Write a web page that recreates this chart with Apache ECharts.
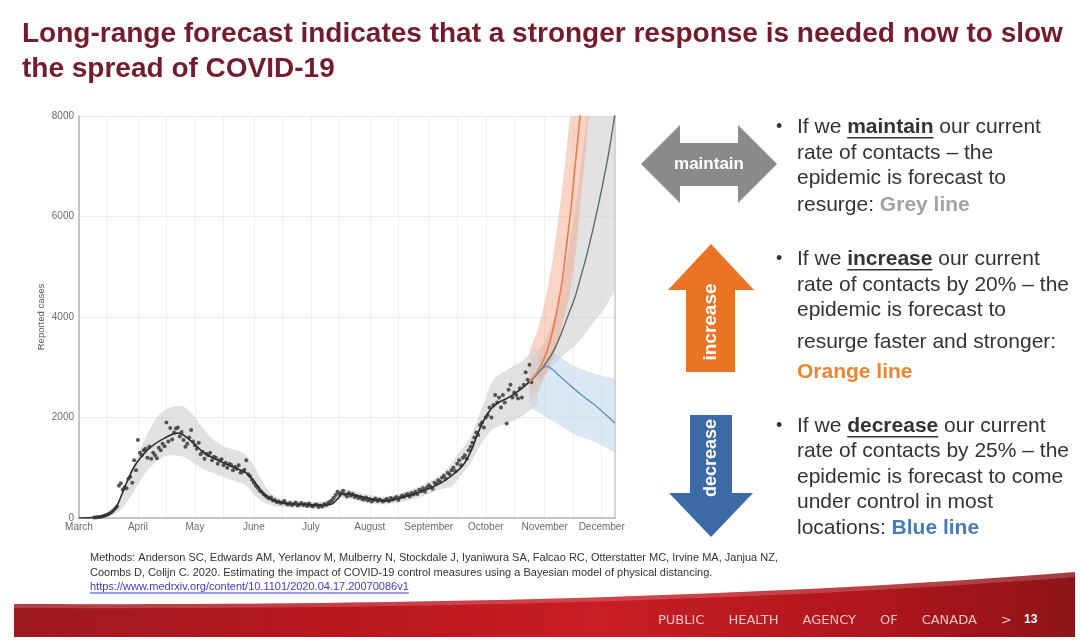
<!DOCTYPE html>
<html><head><meta charset="utf-8">
<script src="https://cdn.jsdelivr.net/npm/echarts@6/dist/echarts.min.js"></script>
<style>html,body{margin:0;padding:0;background:#fff}#c{width:1080px;height:642px}</style>
</head><body><div id="c"></div>
<script>
// ---- axis / tick data (x = days since March 1) ----
const monthLabels = ['March','April','May','June','July','August','September','October','November','December'];
const monthStartDays = [0,31,61,92,122,153,184,214,245,275];
const halfMonthDays = [0,15,31,46,61,76,92,107,122,137,153,168,184,199,214,229,245,260,275];

// ---- reported daily cases (points), first point on day 8 ----
const firstCaseDay = 8;
const dailyCases = [
 10,12,18,22,30,40,55,70,90,115,150,190,230,
 640,690,560,610,590,780,820,700,1150,950,
 1550,1300,1250,1350,1380,1200,1420,1180,1300,1250,
 1190,1400,1350,1480,1430,1900,1520,1790,1560,1700,
 1780,1800,1620,1710,1550,1420,1480,1600,1750,1520,
 1450,1380,1500,1270,1320,1180,1280,1250,1300,1150,
 1220,1200,1080,1150,1170,1050,1100,1000,1080,1060,
 950,1020,980,1050,900,920,960,1150,870,830,
 760,700,640,600,540,520,480,450,420,390,
 410,350,360,320,330,300,310,340,290,270,
 300,260,280,310,250,270,300,260,280,240,
 290,250,230,260,270,220,250,230,280,260,
 300,320,350,400,460,520,480,500,540,470,
 430,500,450,480,420,440,400,420,380,370,
 410,350,380,330,360,390,340,370,350,330,
 360,380,340,400,370,390,420,360,410,450,
 420,460,480,430,500,470,520,480,560,530,
 590,520,600,650,620,580,700,680,750,720,
 800,840,780,900,870,950,1000,930,1080,1150,
 1050,1200,1250,1180,1350,1420,1500,1600,1700,1650,
 1850,1900,1800,2000,2050,2200,2000,2250,2450,2300,
 2400,2200,2450,2300,1880,2550,2650,2400,2500,2450,
 2380,2580,2400,2650,2900,2750,3050,2700
];

// ---- model fit (black line) ----
const fitDays  = [0,5,10,15,19,22,25,29,33,38,45,52,59,66,73,80,87,90,94,97,100,104,110,116,122,128,133,136,139,143,148,153,158,163,168,173,178,183,188,193,198,203,207,210,215,220,227,233,238,242];
const fitCases = [0,3,20,60,180,420,700,1020,1230,1420,1590,1690,1530,1290,1150,1030,920,830,640,490,400,330,285,275,265,255,280,380,480,470,430,380,350,340,390,440,500,570,650,760,900,1100,1400,1700,2080,2280,2420,2580,2750,2900];

// ---- model fit uncertainty band ----
const bandDays  = [0,10,15,20,25,30,35,40,45,50,55,60,65,70,75,80,85,88,92,96,100,105,110,120,130,137,140,150,160,170,180,190,196,200,206,210,213,218,225,234,241];
const bandUpper = [0,40,100,280,650,1150,1600,1950,2150,2220,2220,2050,1800,1580,1450,1380,1320,1250,1050,760,520,400,360,330,340,560,580,480,430,500,650,850,1094,1300,1618,2000,2282,2746,2945,3144,3409];
const bandLower = [0,5,30,100,300,600,900,1100,1230,1250,1220,1100,980,900,830,760,700,640,470,340,270,230,210,200,190,380,400,310,270,320,420,570,623,800,1094,1380,1552,1780,1880,2050,2300];

// ---- forecast: maintain (grey) ----
const greyDays  = [237,242,246,250,254,258,261,264,267.4,272.7,278,282];
const greyCases = [2700,2900,3100,3350,3700,4100,4400,4800,5270,6130,7120,8050];
const greyBandDays  = [238,245,250,255,260,264,268,272,277,282];
const greyBandUpper = [3150,3500,4000,4800,5900,7000,8200,9500,11000,13000];
const greyBandLower = [2600,2850,3050,3250,3400,3550,3750,3950,4200,4600];

// ---- forecast: increase (orange) ----
const orangeDays  = [237,241,245,248,250.5,252.5,254.5,256,258.7,261.3,263.6,266];
const orangeCases = [2700,2900,3200,3550,3950,4340,4800,5270,6130,7120,8000,9000];
const orangeBandDays  = [237,241,245,249,252,255,258,261,264,267,270];
const orangeBandUpper = [3300,3700,4300,5100,5900,6800,7900,9000,10500,12000,13500];
const orangeBandLower = [2300,2500,2800,3150,3500,3950,4400,5200,6300,7500,9000];

// ---- forecast: decrease (blue) ----
const blueDays  = [237,242,246,249,253,259,265.6,270,274.4,282];
const blueCases = [2700,2900,3020,2960,2820,2620,2414,2290,2150,1890];
const blueBandDays  = [238,243,247,255,262,269,276,282];
const blueBandUpper = [3000,3250,3350,3150,3000,2900,2820,2750];
const blueBandLower = [2200,2080,1980,1800,1640,1550,1430,1330];

// ---------------------------------------------------------------
const FF = '"Liberation Sans", Arial, sans-serif';
const mctx = document.createElement('canvas').getContext('2d');
function tw(text, font){ mctx.font = font; return mctx.measureText(text).width; }

function pairs(xs, ys){ return xs.map((x,i)=>[x, ys[i]]); }
const scatterData = dailyCases.map((v,i)=>[firstCaseDay+i, v]);

function bandSeries(xs, up, lo, color, opacity, z){
  return {
    type:'custom', z:z, silent:true, clip:true,
    data:[[xs[0], lo[0]]],
    renderItem:function(params, api){
      const pts=[];
      for(let i=0;i<xs.length;i++) pts.push(api.coord([xs[i], up[i]]));
      for(let i=xs.length-1;i>=0;i--) pts.push(api.coord([xs[i], lo[i]]));
      const cs = params.coordSys;
      return {
        type:'group',
        clipPath:{type:'rect', shape:{x:cs.x, y:cs.y, width:cs.width, height:cs.height}},
        children:[{type:'polygon', shape:{points:pts, smooth:0.25}, style:{fill:color, opacity:opacity}}]
      };
    }
  };
}
function lineSeries(xs, ys, color, width, z){
  return {type:'line', data:pairs(xs,ys), smooth:0.4, showSymbol:false, clip:true, z:z, silent:true,
    lineStyle:{color:color, width:width}};
}

// ---- slide graphics ----
const bodyFont = '21px ' + FF;
const boldFont = 'bold 21px ' + FF;
const textColor = '#333333';
const graphics = [];

// Title
['Long-range forecast indicates that a stronger response is needed now to slow','the spread of COVID-19'].forEach((t,i)=>{
  graphics.push({type:'text', x:22, y:[34,69][i], style:{text:t, font:'bold 28px '+FF, fill:'#751c2c', verticalAlign:'middle'}});
});

// Arrows
graphics.push({type:'polygon', shape:{points:[[641,164],[680,125],[680,143],[738,143],[738,125],[777,164],[738,203],[738,186],[680,186],[680,203]]}, style:{fill:'#8a8a8a'}});
graphics.push({type:'text', x:709, y:164, style:{text:'maintain', font:'bold 17px '+FF, fill:'#ffffff', align:'center', verticalAlign:'middle'}});
graphics.push({type:'polygon', shape:{points:[[711,244],[754,290],[735,290],[735,372],[686,372],[686,290],[668,290]]}, style:{fill:'#ea7424'}});
graphics.push({type:'text', x:711, y:322, rotation:Math.PI/2, style:{text:'increase', font:'bold 19px '+FF, fill:'#ffffff', align:'center', verticalAlign:'middle'}});
graphics.push({type:'polygon', shape:{points:[[690,415],[732,415],[732,493],[753,493],[711,537],[669,493],[690,493]]}, style:{fill:'#3b6aa6'}});
graphics.push({type:'text', x:711, y:458, rotation:Math.PI/2, style:{text:'decrease', font:'bold 18px '+FF, fill:'#ffffff', align:'center', verticalAlign:'middle'}});

// Bullet text blocks
const richStyles = {
  b:{font:boldFont, fill:textColor},
  g:{font:boldFont, fill:'#a3a3a3'},
  o:{font:boldFont, fill:'#ec8430'},
  bl:{font:boldFont, fill:'#4a7bb6'}
};
const blocks = [
  {ys:[127,153,178,205], lines:['If we {b|maintain} our current','rate of contacts – the','epidemic is forecast to','resurge: {g|Grey line}'], key:'maintain'},
  {ys:[259,285,310,342,372], lines:['If we {b|increase} our current','rate of contacts by 20% – the','epidemic is forecast to','resurge faster and stronger:','{o|Orange line}'], key:'increase'},
  {ys:[426,451,477,502,528], lines:['If we {b|decrease} our current','rate of contacts by 25% – the','epidemic is forecast to come','under control in most','locations: {bl|Blue line}'], key:'decrease'}
];
blocks.forEach(bk=>{
  graphics.push({type:'text', x:776, y:bk.ys[0], style:{text:'•', font:'18px '+FF, fill:textColor, verticalAlign:'middle'}});
  bk.lines.forEach((ln,i)=>{
    graphics.push({type:'text', x:797, y:bk.ys[i], style:{text:ln, font:bodyFont, fill:textColor, verticalAlign:'middle', rich:richStyles}});
  });
  const x0 = 797 + tw('If we ', bodyFont);
  const w = tw(bk.key, boldFont);
  graphics.push({type:'rect', shape:{x:x0, y:bk.ys[0]+10, width:w, height:1.6}, style:{fill:textColor}});
});

// Footer reference
const footFont = '11px ' + FF;
graphics.push({type:'text', x:90, y:558, style:{text:'Methods: Anderson SC, Edwards AM, Yerlanov M, Mulberry N, Stockdale J, Iyaniwura SA, Falcao RC, Otterstatter MC, Irvine MA, Janjua NZ,', font:footFont, fill:'#333', verticalAlign:'middle'}});
graphics.push({type:'text', x:90, y:573, style:{text:'Coombs D, Colijn C. 2020. Estimating the impact of COVID-19 control measures using a Bayesian model of physical distancing.', font:footFont, fill:'#333', verticalAlign:'middle'}});
const linkText = 'https://www.medrxiv.org/content/10.1101/2020.04.17.20070086v1';
graphics.push({type:'text', x:90, y:587, style:{text:linkText, font:footFont, fill:'#3a3ad0', verticalAlign:'middle'}});
graphics.push({type:'rect', shape:{x:90, y:592.5, width:tw(linkText, footFont), height:1}, style:{fill:'#3a3ad0'}});

// Red banner (decorative shape: curved top edge sampled from a bezier)
function bez(p0,p1,p2,p3,n){
  const out=[];
  for(let i=0;i<=n;i++){const t=i/n, u=1-t;
    out.push([u*u*u*p0[0]+3*u*u*t*p1[0]+3*u*t*t*p2[0]+t*t*t*p3[0], u*u*u*p0[1]+3*u*u*t*p1[1]+3*u*t*t*p2[1]+t*t*t*p3[1]]);}
  return out;
}
const topEdge = bez([14,604],[300,605],[700,602],[1075,572],40);
const bannerPts = topEdge.concat([[1075,637],[14,637]]);
graphics.push({type:'polygon', shape:{points:bannerPts},
  style:{fill:new echarts.graphic.LinearGradient(0,0,1,0,[
    {offset:0, color:'#9d1a20'},{offset:0.3, color:'#b8161d'},{offset:0.55, color:'#c81e25'},{offset:0.8, color:'#b0161c'},{offset:1, color:'#8e1418'}])}});
const hiEdge = bez([14,608],[300,609],[700,606],[1075,577],40).reverse();
graphics.push({type:'polygon', shape:{points:topEdge.concat(hiEdge)}, style:{fill:'rgba(255,255,255,0.18)'}});
const bannerFont = '13px "DejaVu Sans", sans-serif';
['PUBLIC','HEALTH','AGENCY','OF','CANADA'].reduce((x,word)=>{
  graphics.push({type:'text', x:x, y:621, style:{text:word, font:bannerFont, fill:'#f2c4c4', verticalAlign:'middle'}});
  return x + tw(word, bannerFont) + 24;
}, 658);
graphics.push({type:'text', x:1001, y:621, style:{text:'>', font:bannerFont, fill:'#f2c4c4', verticalAlign:'middle'}});
graphics.push({type:'text', x:1024, y:620, style:{text:'13', font:'bold 12px '+FF, fill:'#ffffff', verticalAlign:'middle'}});

// ---- chart ----
const chart = echarts.init(document.getElementById('c'), null, {renderer:'canvas'});
chart.setOption({
  animation:false,
  backgroundColor:'#ffffff',
  grid:{left:79, right:465, top:116, bottom:124},
  xAxis:{
    type:'value', min:0, max:282,
    axisLine:{show:true, lineStyle:{color:'#b5b5b5', width:1.5}},
    axisTick:{show:false, customValues:halfMonthDays},
    axisLabel:{customValues:monthStartDays, formatter:v=>monthLabels[monthStartDays.indexOf(v)], fontSize:10, color:'#6a6a6a', margin:4, fontFamily:FF},
    splitLine:{show:true, lineStyle:{color:'#efefef', width:1}}
  },
  yAxis:[{
    type:'value', min:0, max:8000, interval:2000,
    name:'Reported cases', nameLocation:'middle', nameGap:33, nameRotate:90,
    nameTextStyle:{fontSize:9.5, color:'#555', fontFamily:FF},
    axisLine:{show:true, lineStyle:{color:'#b5b5b5', width:1.5}},
    axisTick:{show:false},
    axisLabel:{fontSize:10, color:'#6a6a6a', margin:5, fontFamily:FF, formatter:v=>String(v)},
    splitLine:{show:true, lineStyle:{color:'#ececec'}}
  },{
    type:'value', min:0, max:8000, interval:2000, position:'right',
    axisLine:{show:true, lineStyle:{color:'#c8c8c8', width:1.5}},
    axisTick:{show:false}, axisLabel:{show:false}, splitLine:{show:false}
  }],
  series:[
    bandSeries(greyBandDays, greyBandUpper, greyBandLower, '#cfcfcf', 0.6, 1),
    bandSeries(blueBandDays, blueBandUpper, blueBandLower, '#b9d5ea', 0.55, 2),
    bandSeries(orangeBandDays, orangeBandUpper, orangeBandLower, '#f3a283', 0.45, 3),
    bandSeries(bandDays, bandUpper, bandLower, '#d4d4d4', 0.7, 4),
    {type:'scatter', data:scatterData, symbolSize:4, z:6, silent:true,
      itemStyle:{color:'#3a3a3a', opacity:0.85}},
    lineSeries(fitDays, fitCases, '#2f2f2f', 1.6, 7),
    lineSeries(greyDays, greyCases, '#5d6b6b', 1.4, 8),
    lineSeries(blueDays, blueCases, '#6893b5', 1.4, 8),
    lineSeries(orangeDays, orangeCases, '#ee7b4a', 1.6, 9)
  ],
  graphic:{elements:graphics}
});
</script></body></html>
